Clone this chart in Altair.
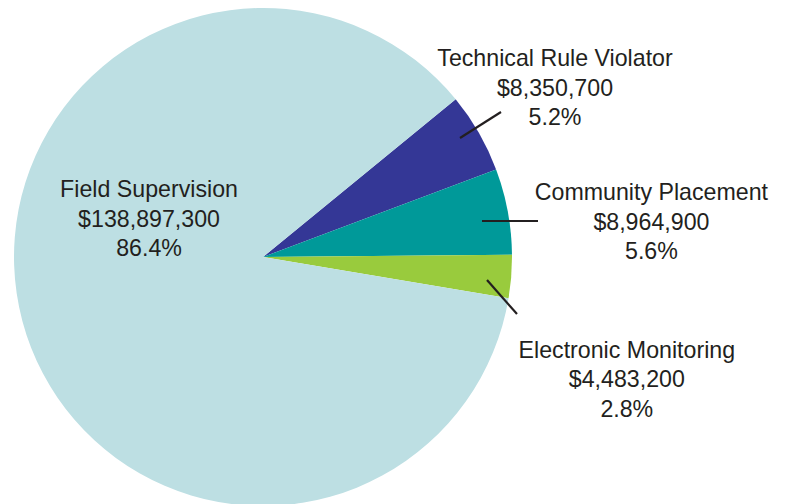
import math
import altair as alt
import pandas as pd

categories = ["Technical Rule Violator", "Community Placement", "Electronic Monitoring", "Field Supervision"]
amounts = [8350700, 8964900, 4483200, 138897300]
amount_labels = ["$8,350,700", "$8,964,900", "$4,483,200", "$138,897,300"]
percent_labels = ["5.2%", "5.6%", "2.8%", "86.4%"]
colors = ["#343796", "#009999", "#99CB3D", "#BDDFE3"]

df = pd.DataFrame({
    "category": categories,
    "amount": amounts,
    "order": list(range(len(categories))),
    "label": [f"{c}\n{a}\n{p}" for c, a, p in zip(categories, amount_labels, percent_labels)],
})

CX, CY, R = 255, 249, 249
T0 = math.radians(50.7)
FONT = "Liberation Sans"
TEXT_COLOR = "#231F20"
LH = 29.5

theta = alt.Theta("amount:Q", stack=True, scale=alt.Scale(range=[T0, T0 + 2 * math.pi]))
order = alt.Order("order:Q")

base = alt.Chart(df)

pie = base.mark_arc(outerRadius=R, stroke=None).encode(
    theta=theta,
    order=order,
    color=alt.Color("category:N", scale=alt.Scale(domain=categories, range=colors), legend=None),
    x=alt.value(CX),
    y=alt.value(CY),
)

# label placement: (radius, dx, dy) per category
label_pos = {
    "Technical Rule Violator": (337, 0, 0 - LH),
    "Community Placement": (390, 5, 37 - LH),
    "Electronic Monitoring": (383, -18, 93 - LH),
    "Field Supervision": (120, 2, -68 - LH),
}

layers = [pie]
for cat, (r, dx, dy) in label_pos.items():
    t = base.transform_calculate(
        txt=f"datum.category == '{cat}' ? datum.label : ''"
    ).mark_text(
        font=FONT, fontSize=23.2, lineHeight=LH, lineBreak="\n",
        align="center", baseline="middle", color=TEXT_COLOR, dx=dx, dy=dy,
    ).encode(
        theta=theta,
        order=order,
        radius=alt.value(r),
        text="txt:N",
        x=alt.value(CX),
        y=alt.value(CY),
    )
    layers.append(t)

leaders = [
    (452, 130, 493, 104),
    (474, 213, 530, 213),
    (479, 272, 509, 306),
]
for x1, y1, x2, y2 in leaders:
    layers.append(
        alt.Chart(pd.DataFrame({"a": [0]})).mark_rule(color=TEXT_COLOR, strokeWidth=2.2).encode(
            x=alt.value(x1), y=alt.value(y1), x2=alt.value(x2), y2=alt.value(y2)
        )
    )

chart = alt.layer(*layers).properties(
    width=777, height=496, padding=0, autosize=alt.AutoSizeParams(type="none"),
    background="white",
).configure_view(stroke=None)

chart.save("out.html", embed_options={"renderer": "svg", "actions": False})
